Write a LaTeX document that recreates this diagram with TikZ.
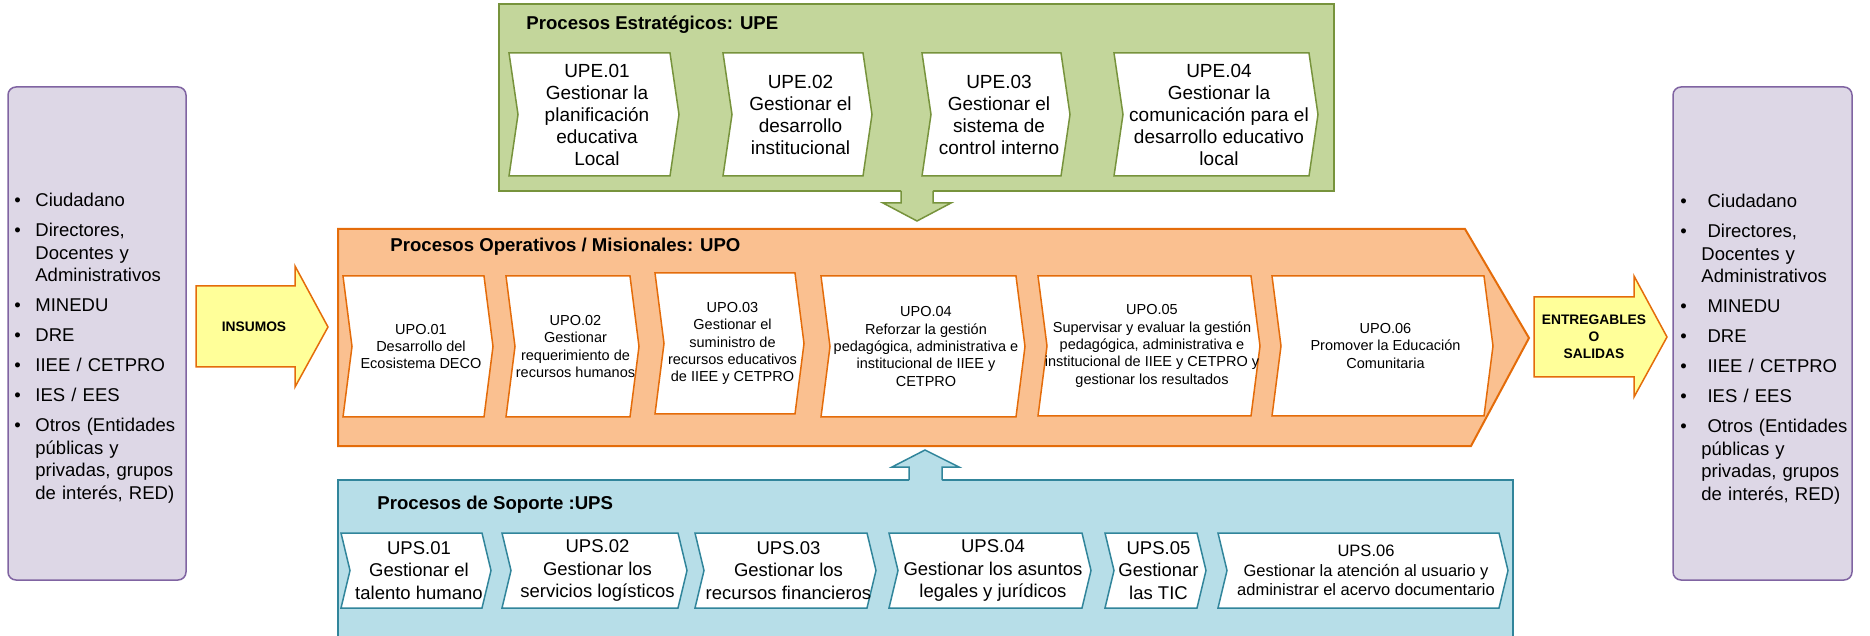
\documentclass[tikz,border=0pt]{standalone}
\usepackage{fontspec}
\setmainfont{Liberation Sans}

\definecolor{lilafill}{RGB}{221,215,230}
\definecolor{lilaline}{RGB}{128,100,162}
\definecolor{amarillo}{RGB}{255,255,153}
\definecolor{upefill}{RGB}{195,214,155}
\definecolor{upeline}{RGB}{119,147,60}
\definecolor{upofill}{RGB}{250,192,144}
\definecolor{upoline}{RGB}{228,108,10}
\definecolor{upsfill}{RGB}{183,222,232}
\definecolor{upsline}{RGB}{49,133,155}

% chevron box: name, box style, x left, x tip, y top, y bottom, text style, text
\newcommand{\chevbox}[8]{%
  \draw[#2] (#3,#5) -- ({#4-9},#5) -- (#4,{(#5+#6)/2}) -- ({#4-9},#6) -- (#3,#6) -- ({#3+9},{(#5+#6)/2}) -- cycle;
  \node[#7] (#1) at ({(#3+#4)/2+3},{(#5+#6)/2}) {#8};
}
% list items
\newcommand{\itm}[1]{\noindent\hangindent=10.5pt\hangafter=1\makebox[10.5pt][l]{\textbullet}#1\par\vspace{3.75pt}}
\newcommand{\itmr}[1]{\noindent\hangindent=10.5pt\hangafter=1\makebox[10.5pt][l]{\textbullet}\ #1\par\vspace{3.75pt}}

\begin{document}
\begin{tikzpicture}[x=0.5pt,y=-0.5pt,
    lila/.style={draw=lilaline, fill=lilafill, line width=0.75pt, rounded corners=4pt},
    listtxt/.style={inner sep=0pt, text width=85pt, align=left, font=\fontsize{9.25}{11.25}\selectfont},
    yarrow/.style={draw=upoline, fill=amarillo, line width=0.75pt},
    arrtxt/.style={inner sep=0pt, align=center, font=\bfseries\fontsize{6.9}{8.5}\selectfont},
    head/.style={inner sep=0pt, anchor=west, font=\bfseries\fontsize{9.3}{11}\selectfont},
    upebox/.style={draw=upeline, fill=white, line width=0.75pt},
    upobox/.style={draw=upoline, fill=white, line width=0.75pt},
    upsbox/.style={draw=upsline, fill=white, line width=0.75pt},
    upetxt/.style={inner sep=0pt, align=center, font=\fontsize{9.5}{11}\selectfont},
    upotxt/.style={inner sep=0pt, align=center, font=\fontsize{7.25}{8.65}\selectfont},
    upstxt/.style={inner sep=0pt, align=center, font=\fontsize{9.25}{11.25}\selectfont},
    upssmall/.style={inner sep=0pt, align=center, font=\fontsize{8.25}{9.75}\selectfont}]
\useasboundingbox (0,0) rectangle (1870,636);
\clip (0,0) rectangle (1870,636);

% inputs and outputs
\draw[lila] (8,87) rectangle (186,580);
\draw[lila] (1673,87) rectangle (1852,580);
\node[listtxt, anchor=north west] (inlist) at (14,193) {%
  \itm{Ciudadano}
  \itm{Directores,\newline Docentes y\newline Administrativos}
  \itm{MINEDU}
  \itm{DRE}
  \itm{IIEE / CETPRO}
  \itm{IES / EES}
  \itm{Otros (Entidades\newline públicas y\newline privadas, grupos\newline de interés, RED)}};
\node[listtxt, anchor=north west] (outlist) at (1680,194) {%
  \itmr{Ciudadano}
  \itmr{Directores,\newline Docentes y\newline Administrativos}
  \itmr{MINEDU}
  \itmr{DRE}
  \itmr{IIEE / CETPRO}
  \itmr{IES / EES}
  \itmr{Otros (Entidades\newline públicas y\newline privadas, grupos\newline de interés, RED)}};

% block arrows in and out
\draw[yarrow] (196,286) -- (295,286) -- (295,266) -- (328,327) -- (295,387) -- (295,367) -- (196,367) -- cycle;
\node[arrtxt] (insumos) at (254,327) {INSUMOS};
\draw[yarrow] (1534,297) -- (1634,297) -- (1634,276) -- (1667,337) -- (1634,397) -- (1634,377) -- (1534,377) -- cycle;
\node[arrtxt] (salidas) at (1594,337) {ENTREGABLES\\O\\SALIDAS};

% the three process groups
\draw[draw=upeline, fill=upefill, line width=0.75pt] (499,4) rectangle (1334,191);
\draw[draw=upoline, fill=upofill, line width=1pt] (338,229) -- (1465,229) -- (1529,338) -- (1471,446) -- (338,446) -- cycle;
\draw[draw=upsline, fill=upsfill, line width=0.75pt] (338,660) -- (338,480) -- (1513,480) -- (1513,660);

% small arrows towards UPO
\fill[upefill] (901,189) -- (901,203) -- (883,203) -- (917,221) -- (951,203) -- (933,203) -- (933,189) -- cycle;
\draw[upeline, line width=0.75pt] (901,191) -- (901,203) -- (883,203) -- (917,221) -- (951,203) -- (933,203) -- (933,191);
\fill[upsfill] (909,482) -- (909,467) -- (892,467) -- (925,450) -- (959,467) -- (942,467) -- (942,482) -- cycle;
\draw[upsline, line width=0.75pt] (909,480) -- (909,467) -- (892,467) -- (925,450) -- (959,467) -- (942,467) -- (942,480);

% headers
\node[head] (upehead) at (526,25) {Procesos Estratégicos: UPE};
\node[head] (upohead) at (390,247) {Procesos Operativos / Misionales: UPO};
\node[head] (upshead) at (377,505) {Procesos de Soporte :UPS};

% UPE
\chevbox{upe1}{upebox}{509}{679}{53}{176}{upetxt}{UPE.01\\Gestionar la\\planificación\\educativa\\Local}
\chevbox{upe2}{upebox}{723}{872}{53}{176}{upetxt}{UPE.02\\Gestionar el\\desarrollo\\institucional}
\chevbox{upe3}{upebox}{922}{1070}{53}{176}{upetxt}{UPE.03\\Gestionar el\\sistema de\\control interno}
\chevbox{upe4}{upebox}{1114}{1318}{53}{176}{upetxt}{UPE.04\\Gestionar la\\comunicación para el\\desarrollo educativo\\local}

% UPO
\chevbox{upo1}{upobox}{343}{493}{276}{417}{upotxt}{UPO.01\\Desarrollo del\\Ecosistema DECO}
\chevbox{upo2}{upobox}{506}{639}{276}{417}{upotxt}{UPO.02\\Gestionar\\requerimiento de\\recursos humanos}
\chevbox{upo3}{upobox}{655}{804}{273}{414}{upotxt}{UPO.03\\Gestionar el\\suministro de\\recursos educativos\\de IIEE y CETPRO}
\chevbox{upo4}{upobox}{821}{1025}{276}{417}{upotxt}{UPO.04\\Reforzar la gestión\\pedagógica, administrativa e\\institucional de IIEE y\\CETPRO}
\chevbox{upo5}{upobox}{1038}{1260}{276}{416}{upotxt}{UPO.05\\Supervisar y evaluar la gestión\\pedagógica, administrativa e\\institucional de IIEE y CETPRO y\\gestionar los resultados}
\chevbox{upo6}{upobox}{1272}{1493}{276}{416}{upotxt}{UPO.06\\Promover la Educación\\Comunitaria}

% UPS
\chevbox{ups1}{upsbox}{341}{491}{533}{608}{upstxt}{UPS.01\\Gestionar el\\talento humano}
\chevbox{ups2}{upsbox}{502}{687}{533}{608}{upstxt}{UPS.02\\Gestionar los\\servicios logísticos}
\chevbox{ups3}{upsbox}{695}{876}{533}{608}{upstxt}{UPS.03\\Gestionar los\\recursos financieros}
\chevbox{ups4}{upsbox}{889}{1091}{533}{608}{upstxt}{UPS.04\\Gestionar los asuntos\\legales y jurídicos}
\chevbox{ups5}{upsbox}{1105}{1206}{533}{608}{upstxt}{UPS.05\\Gestionar\\las TIC}
\chevbox{ups6}{upsbox}{1218}{1508}{533}{608}{upssmall}{UPS.06\\Gestionar la atención al usuario y\\administrar el acervo documentario}

\end{tikzpicture}
\end{document}
